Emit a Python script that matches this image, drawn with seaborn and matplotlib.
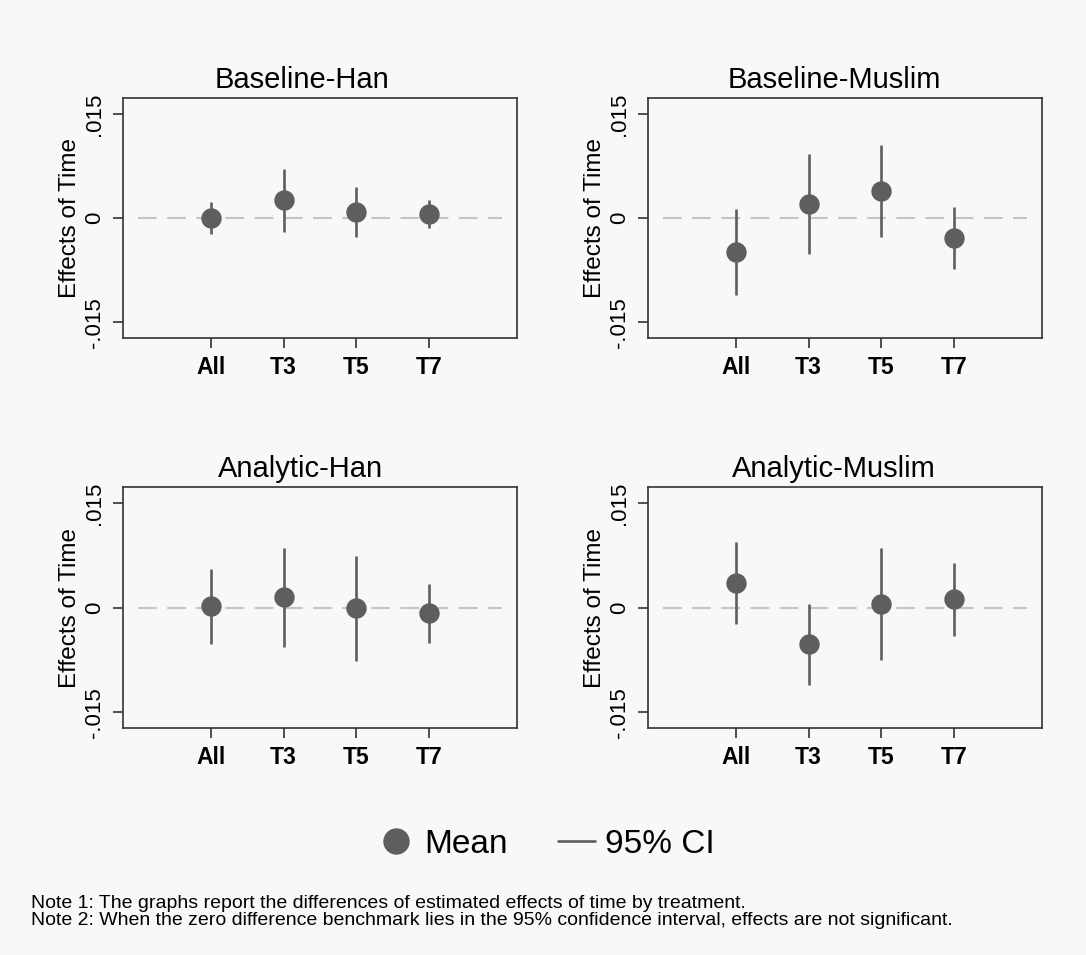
import numpy as np
import pandas as pd
import matplotlib
matplotlib.use("Agg")
import matplotlib.pyplot as plt
from matplotlib.lines import Line2D
import seaborn as sns

# ---------------- data ----------------
categories = ["All", "T3", "T5", "T7"]
panel_titles = ["Baseline-Han", "Baseline-Muslim", "Analytic-Han", "Analytic-Muslim"]

baseline_han_mean = [0.0000, 0.0026, 0.0009, 0.0006]
baseline_han_low = [-0.0023, -0.0020, -0.0027, -0.0014]
baseline_han_high = [0.0024, 0.0071, 0.0045, 0.0027]

baseline_muslim_mean = [-0.0049, 0.0020, 0.0039, -0.0028]
baseline_muslim_low = [-0.0111, -0.0052, -0.0027, -0.0073]
baseline_muslim_high = [0.0014, 0.0093, 0.0105, 0.0016]

analytic_han_mean = [0.0002, 0.0015, -0.0001, -0.0008]
analytic_han_low = [-0.0052, -0.0056, -0.0077, -0.0050]
analytic_han_high = [0.0056, 0.0086, 0.0074, 0.0034]

analytic_muslim_mean = [0.0035, -0.0052, 0.0006, 0.0012]
analytic_muslim_low = [-0.0023, -0.0111, -0.0075, -0.0040]
analytic_muslim_high = [0.0094, 0.0006, 0.0086, 0.0064]

y_ticks = [-0.015, 0.0, 0.015]
y_tick_labels = ["-.015", "0", ".015"]
legend_labels = ["Mean", "95% CI"]
note_lines = [
    "Note 1: The graphs report the differences of estimated effects of time by treatment.",
    "Note 2: When the zero difference benchmark lies in the 95% confidence interval, effects are not significant.",
]

panels = [
    (baseline_han_mean, baseline_han_low, baseline_han_high),
    (baseline_muslim_mean, baseline_muslim_low, baseline_muslim_high),
    (analytic_han_mean, analytic_han_low, analytic_han_high),
    (analytic_muslim_mean, analytic_muslim_low, analytic_muslim_high),
]

# ---------------- style ----------------
BG = "#f8f8f8"
MARK = "#5e5e5e"
INK = "#000000"
sns.set_theme(style="white")
plt.rcParams["font.family"] = ["Liberation Sans", "DejaVu Sans"]
plt.rcParams["axes.facecolor"] = BG
plt.rcParams["figure.facecolor"] = BG
plt.rcParams["text.color"] = INK
plt.rcParams["axes.labelcolor"] = INK
plt.rcParams["xtick.color"] = INK
plt.rcParams["ytick.color"] = INK

W, H = 1086, 955
fig = plt.figure(figsize=(W / 100, H / 100), dpi=100)

# axes boxes in pixels: (left, top, width, height)
boxes = [
    (122.7, 98.3, 394.6, 240.0),
    (647.7, 98.3, 394.6, 240.0),
    (122.7, 487.3, 394.6, 241.0),
    (647.7, 487.3, 394.6, 241.0),
]
title_pos = [(302, 80), (834, 80), (301, 469), (834, 469)]

for i, (title, (means, lows, highs)) in enumerate(zip(panel_titles, panels)):
    l, t, w, h = boxes[i]
    ax = fig.add_axes([l / W, 1 - (t + h) / H, w / W, h / H])
    df = pd.DataFrame({"group": categories, "mean": means, "low": lows, "high": highs})
    pos = np.arange(len(categories))

    ax.plot([-1, len(categories)], [0, 0], color="#c4c4c4", lw=1.5,
            dashes=(9, 5), zorder=1)
    ax.vlines(pos, df["low"], df["high"], color=MARK, lw=1.9, zorder=2)
    sns.scatterplot(data=df, x="group", y="mean", ax=ax, s=215, color=MARK,
                    linewidth=0, zorder=3, legend=False)

    ax.set_xlim(-1.21, len(categories) - 1 + 1.21)
    ax.set_ylim(-0.0173, 0.0173)
    ax.set_xticks(pos)
    ax.set_xticklabels(categories, fontsize=16.5, fontweight="bold")
    ax.set_yticks(y_ticks)
    ax.set_yticklabels(y_tick_labels, fontsize=16, rotation=90, va="center")
    ax.set_xlabel("")
    ax.set_ylabel("Effects of Time", fontsize=17.5, labelpad=2)
    ax.tick_params(axis="both", which="both", length=7, width=1.2,
                   color="#333333", pad=6, left=True, bottom=True)
    for sp in ax.spines.values():
        sp.set_color("#333333")
        sp.set_linewidth(1.2)

    x, y = title_pos[i]
    fig.text(x / W, 1 - y / H, title, ha="center", va="center", fontsize=21)

handles = [
    Line2D([], [], marker="o", linestyle="none", markersize=19, color=MARK,
           markeredgewidth=0),
    Line2D([], [], color=MARK, lw=1.9),
]
fig.legend(handles, legend_labels, loc="center", bbox_to_anchor=(546 / W, 1 - 844 / H),
           ncol=2, frameon=False, fontsize=24, handlelength=1.1, handletextpad=0.3,
           columnspacing=1.5)

fig.text(31 / W, 1 - 907.5 / H, note_lines[0], ha="left", va="baseline", fontsize=14)
fig.text(31 / W, 1 - 924.5 / H, note_lines[1], ha="left", va="baseline", fontsize=14)

fig.savefig("out.png", dpi=100, facecolor=BG)
